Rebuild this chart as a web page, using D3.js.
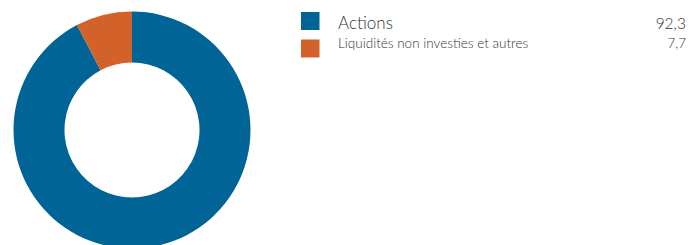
<!DOCTYPE html>
<html><head><meta charset="utf-8">
<script src="https://cdn.jsdelivr.net/npm/d3@7"></script>
<style>body{margin:0;background:#fff}svg{display:block}</style>
</head><body>
<svg id="chart" width="689" height="245"></svg>
<script>
const categories = ["Actions", "Liquidités non investies et autres"];
const values = [92.3, 7.7];
const valueLabels = ["92,3", "7,7"];
const colors = ["#006496", "#d2622a"];

const svg = d3.select("#chart");
const cx = 132, cy = 130, rOuter = 118.5, rInner = 67.5;
const pie = d3.pie().sort(null).value(d => d)(values);
const arc = d3.arc().innerRadius(rInner).outerRadius(rOuter);
svg.append("g").attr("transform", `translate(${cx},${cy})`)
  .selectAll("path").data(pie).join("path")
  .attr("d", arc).attr("fill", (d, i) => colors[i]);

const rows = [
  {y: 12, font: 17, numFont: 15.5, base: 29},
  {y: 39.5, font: 13.5, numFont: 13.5, base: 47.5}
];
const lg = svg.append("g");
categories.forEach((c, i) => {
  const r = rows[i];
  lg.append("rect").attr("x", 301).attr("y", r.y).attr("width", 18.5).attr("height", 18).attr("fill", colors[i]);
  lg.append("text").attr("x", 338).attr("y", r.base).attr("font-family", "Lato, sans-serif")
    .attr("font-weight", 300).attr("font-size", r.font).attr("fill", "#333").text(c);
  lg.append("text").attr("x", 686).attr("y", r.base).attr("text-anchor", "end").attr("font-family", "Lato, sans-serif")
    .attr("font-weight", 300).attr("font-size", r.numFont).attr("fill", "#333").text(valueLabels[i]);
});
</script>
</body></html>
